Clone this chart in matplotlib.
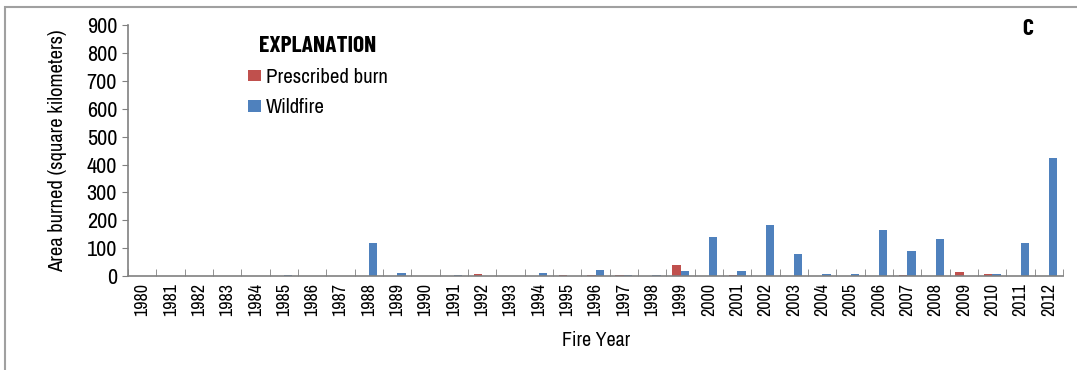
import matplotlib
matplotlib.use('Agg')
import matplotlib.pyplot as plt
from matplotlib.patches import Rectangle
import numpy as np

years = list(range(1980, 2013))
prescribed = [0, 0, 0, 0, 0, 0, 0, 0, 0, 0, 0, 0, 8, 0, 0, 2,
              3, 2, 0, 38, 0, 2, 0, 0, 0, 0, 0, 2, 0, 14, 8, 0, 0]
wildfire = [0, 0, 0, 0, 0, 3, 0, 0, 120, 12, 0, 2, 0, 0, 11, 0,
            20, 3, 3, 19, 140, 17, 184, 80, 7, 8, 165, 88, 134, 0, 8, 118, 423]

red = '#C0504D'
blue = '#4F81BD'
plt.rcParams['font.family'] = ['Archivo Narrow', 'Liberation Sans Narrow', 'DejaVu Sans']
bold_font = ['Barlow Condensed', 'Liberation Sans Narrow', 'DejaVu Sans']

fig = plt.figure(figsize=(10.77, 3.70), dpi=100)
ax = fig.add_axes([0.119, 0.254, 0.868, 0.678])

x = np.arange(len(years))
w = 0.3
ax.bar(x - w / 2, prescribed, w, color=red, label='Prescribed burn')
ax.bar(x + w / 2, wildfire, w, color=blue, label='Wildfire')

ax.set_xlim(-0.5, len(years) - 0.5)
ax.set_ylim(0, 900)
ax.set_yticks(range(0, 901, 100))
ax.set_xticks(x)
ax.set_xticklabels([str(y) for y in years], rotation=90, fontsize=13)
ax.set_xticks(np.arange(-0.5, len(years), 1), minor=True)
ax.tick_params(axis='x', which='major', length=0, pad=5)
ax.tick_params(axis='x', which='minor', direction='in', length=5, color='#808080')
ax.tick_params(axis='y', direction='out', length=4, color='#808080', labelsize=16, pad=4)

for s in ['top', 'right']:
    ax.spines[s].set_visible(False)
for s in ['left', 'bottom']:
    ax.spines[s].set_color('#808080')
    ax.spines[s].set_linewidth(1.2)

ax.set_ylabel('Area burned (square kilometers)', fontsize=14.8, labelpad=14)
ax.set_xlabel('Fire Year', fontsize=14.3, labelpad=11)

leg = ax.legend(loc='upper left', bbox_to_anchor=(0.128, 0.955), frameon=False,
                title='EXPLANATION', fontsize=15, handlelength=0.65, handleheight=0.45,
                handletextpad=0.2, labelspacing=0.55, borderaxespad=0, borderpad=0)
leg.get_title().set_fontweight('bold')
leg.get_title().set_fontsize(17)
leg.get_title().set_family(bold_font)

fig.text(1028 / 1077, 1 - 29 / 370, 'C', fontsize=17, fontweight='bold',
         family=bold_font, ha='center', va='center')

fig.patches.append(Rectangle((5 / 1077, -0.1), 1.2, (363 + 37) / 370, transform=fig.transFigure,
                             fill=False, edgecolor='#a0a0a0', linewidth=1.5))

plt.savefig('out.png', dpi=100)
